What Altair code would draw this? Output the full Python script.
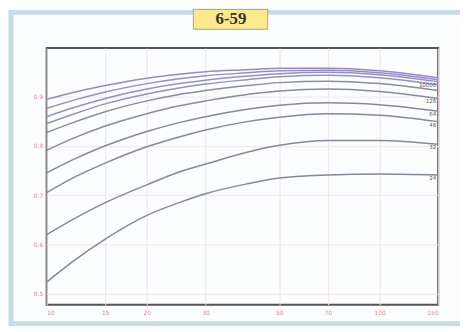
import altair as alt
import pandas as pd

# ---- data ----
x_vals = [10, 12, 15, 20, 25, 30, 40, 50, 70, 100, 150]
x_ticks = [10, 15, 20, 30, 50, 70, 100, 150]
y_ticks = [0.5, 0.6, 0.7, 0.8, 0.9]

series_names = ["b4", "b3", "b2", "b1", "c6", "128", "64", "48", "32", "24"]
curve_b4 = [0.894, 0.908, 0.922, 0.937, 0.945, 0.950, 0.954, 0.957, 0.957, 0.952, 0.938]
curve_b3 = [0.876, 0.892, 0.909, 0.926, 0.936, 0.942, 0.948, 0.952, 0.953, 0.948, 0.934]
curve_b2 = [0.859, 0.877, 0.896, 0.915, 0.926, 0.933, 0.941, 0.946, 0.949, 0.944, 0.930]
curve_b1 = [0.845, 0.864, 0.885, 0.905, 0.917, 0.925, 0.934, 0.940, 0.943, 0.938, 0.924]
curve_c6 = [0.827, 0.847, 0.869, 0.891, 0.904, 0.912, 0.922, 0.928, 0.931, 0.926, 0.912]
curve_128 = [0.791, 0.815, 0.840, 0.865, 0.881, 0.891, 0.904, 0.911, 0.915, 0.910, 0.896]
curve_64 = [0.745, 0.772, 0.800, 0.829, 0.847, 0.859, 0.874, 0.882, 0.887, 0.883, 0.870]
curve_48 = [0.705, 0.735, 0.765, 0.798, 0.818, 0.832, 0.849, 0.858, 0.865, 0.862, 0.849]
curve_32 = [0.620, 0.651, 0.685, 0.721, 0.747, 0.763, 0.787, 0.801, 0.811, 0.811, 0.803]
curve_24 = [0.524, 0.566, 0.611, 0.659, 0.685, 0.703, 0.723, 0.735, 0.741, 0.743, 0.741]

end_labels = ["", "", "10000", "", "", "128", "64", "48", "32", "24"]
series_colors = ["#9a88c6", "#9a8cc4", "#9890c0", "#9494b8", "#8c8ca4",
                 "#8a8aa0", "#88889c", "#88889a", "#888898", "#888896"]

curves = [curve_b4, curve_b3, curve_b2, curve_b1, curve_c6,
          curve_128, curve_64, curve_48, curve_32, curve_24]

rows = []
for name, vals in zip(series_names, curves):
    for xv, yv in zip(x_vals, vals):
        rows.append({"x": xv, "v": yv, "s": name})
df = pd.DataFrame(rows)

lab_rows = []
for name, vals, lab in zip(series_names, curves, end_labels):
    if lab:
        lab_rows.append({"x": x_vals[-1], "v": vals[-1], "s": name, "label": lab})
df_lab = pd.DataFrame(lab_rows)

W, H = 395, 259

xs = alt.Scale(type="log", domain=[10, 150], nice=False)
ys = alt.Scale(domain=[0.478, 0.998], nice=False, zero=False)

one = pd.DataFrame({"a": [0]})

panel = alt.Chart(one).mark_rect(
    fillOpacity=0, stroke="#cadbe8", strokeWidth=5
).encode(
    x=alt.value(-36), x2=alt.value(W + 40), y=alt.value(-36), y2=alt.value(H + 19)
)

title_box = alt.Chart(one).mark_rect(
    fill="#fbe98e", stroke="#a9a48a", strokeWidth=1
).encode(
    x=alt.value(148), x2=alt.value(223), y=alt.value(-39), y2=alt.value(-19)
)

title_text = alt.Chart(one).mark_text(
    text="6-59", font="Liberation Serif", fontSize=17, fontWeight="bold",
    color="#333333", align="center", baseline="middle"
).encode(x=alt.value(186), y=alt.value(-29))

lines = alt.Chart(df).mark_line(interpolate="monotone", strokeWidth=1.5).encode(
    x=alt.X("x:Q", scale=xs, axis=alt.Axis(
        values=x_ticks, title=None, labelColor="#dc8c8c", labelFontSize=6,
        grid=True, gridColor="#f2e4e4", domain=False, ticks=False, labelPadding=5,
        labelFont="DejaVu Sans")),
    y=alt.Y("v:Q", scale=ys, axis=alt.Axis(
        values=y_ticks, format=".1f", title=None, labelColor="#dc8c8c",
        labelFontSize=6, grid=True, gridColor="#f2e4e4", domain=False,
        ticks=False, labelPadding=4, labelFont="DejaVu Sans")),
    color=alt.Color("s:N", scale=alt.Scale(domain=series_names, range=series_colors),
                    legend=None),
    detail="s:N",
)

labels = alt.Chart(df_lab).mark_text(
    align="right", baseline="middle", dx=-2, dy=3, fontSize=5.5, color="#555555",
    font="DejaVu Sans"
).encode(
    x=alt.X("x:Q", scale=xs),
    y=alt.Y("v:Q", scale=ys),
    text="label:N",
)

chart = alt.layer(panel, title_box, title_text, lines, labels).properties(
    width=W, height=H, autosize="none",
    padding={"left": 39, "top": 39, "right": 22, "bottom": 22},
    background="#fbfdfe",
).configure_view(stroke="#555555", strokeWidth=2)

chart.save("out.html", embed_options={"renderer": "svg", "actions": False})
